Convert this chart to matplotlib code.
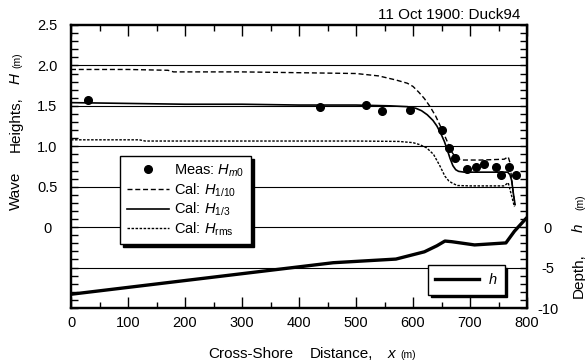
import matplotlib
matplotlib.use("Agg")
import matplotlib.pyplot as plt
from matplotlib.ticker import MultipleLocator, FixedLocator
from matplotlib.lines import Line2D

plt.rcParams['font.family'] = ['Liberation Sans', 'DejaVu Sans']
plt.rcParams['mathtext.fontset'] = 'custom'
plt.rcParams['mathtext.rm'] = 'Liberation Sans'
plt.rcParams['mathtext.it'] = 'Liberation Sans:italic'

# Measured significant wave height H_m0
meas_x = [30, 436, 517, 545, 595, 650, 663, 674, 694, 710, 725, 745, 754, 769, 780]
meas_h = [1.57, 1.48, 1.51, 1.44, 1.45, 1.20, 0.98, 0.85, 0.72, 0.745, 0.785, 0.74, 0.645, 0.74, 0.645]

# Calculated H_1/10
h10_x = [0, 100, 170, 180, 300, 400, 500, 540, 570, 590, 600, 610, 620, 630, 640, 650,
         660, 668, 675, 685, 720, 760, 767, 770, 773, 776, 779]
h10_h = [1.95, 1.95, 1.94, 1.92, 1.92, 1.91, 1.90, 1.87, 1.82, 1.78, 1.74, 1.67, 1.59, 1.49,
         1.37, 1.22, 1.06, 0.93, 0.86, 0.83, 0.83, 0.84, 0.87, 0.80, 0.60, 0.42, 0.27]

# Calculated H_1/3
h13_x = [0, 100, 200, 300, 400, 500, 560, 590, 605, 615, 625, 635, 642, 650, 655, 660,
         665, 670, 675, 680, 690, 720, 750, 766, 770, 773, 776, 779]
h13_h = [1.54, 1.53, 1.52, 1.52, 1.51, 1.51, 1.50, 1.49, 1.47, 1.44, 1.39, 1.32, 1.25, 1.14,
         1.06, 0.96, 0.85, 0.76, 0.71, 0.69, 0.68, 0.68, 0.68, 0.68, 0.65, 0.58, 0.42, 0.28]

# Calculated H_rms
hrms_x = [0, 120, 130, 300, 500, 575, 600, 612, 624, 636, 647, 656, 663, 670, 678, 700,
          760, 767, 770, 774, 778]
hrms_h = [1.08, 1.08, 1.065, 1.065, 1.065, 1.06, 1.045, 1.02, 0.98, 0.90, 0.76, 0.63, 0.57,
          0.54, 0.515, 0.51, 0.51, 0.55, 0.47, 0.36, 0.25]

# Bottom profile, depth h (m)
depth_x = [0, 460, 570, 620, 642, 656, 668, 708, 763, 778, 800]
depth_h = [-8.3, -4.4, -3.95, -3.05, -2.3, -1.72, -1.8, -2.2, -1.95, -0.5, 1.2]

x_ticks = [0, 100, 200, 300, 400, 500, 600, 700, 800]
h_ticks = [-1.0, -0.5, 0.0, 0.5, 1.0, 1.5, 2.0, 2.5]
h_tick_labels = ['', '', '0', '0.5', '1.0', '1.5', '2.0', '2.5']
depth_ticks = [-10, -5, 0]
grid_levels = [-0.5, 0.0, 0.5, 1.0, 1.5, 2.0]

W, HP = 585, 360
FS = 10.5
FL = 11
fig = plt.figure(figsize=(W / 100, HP / 100), dpi=100)
ax = fig.add_axes([71 / W, 1 - 308 / HP, (527 - 71) / W, (308 - 25) / HP])
ax2 = ax.twinx()


def ftext(x, y, s, **kw):
    kw.setdefault('fontsize', FL)
    return fig.text(x / W, 1 - y / HP, s, **kw)


def vtext(x, y, s, **kw):
    # upright-reading label piece; (x, y) is baseline x and starting y in pixels
    return ftext(x, y, s, rotation=90, rotation_mode='anchor', ha='left',
                 va='baseline', **kw)


for g in grid_levels:
    ax.axhline(g, color='k', lw=0.8, zorder=1)

ax.plot(h10_x, h10_h, color='k', lw=1.0, ls=(0, (3.6, 2.0)), zorder=3)
ax.plot(h13_x, h13_h, color='k', lw=1.2, ls='-', zorder=3)
ax.plot(hrms_x, hrms_h, color='k', lw=1.0, ls=(0, (1.8, 1.1)), zorder=3)
ax.plot(meas_x, meas_h, 'o', color='k', ms=5.5, zorder=4)

ax.set_xlim(0, 800)
ax.set_ylim(-1.0, 2.5)
ax.xaxis.set_major_locator(FixedLocator(x_ticks))
ax.xaxis.set_minor_locator(MultipleLocator(50))
ax.set_yticks(h_ticks)
ax.set_yticklabels(h_tick_labels)
ax.yaxis.set_minor_locator(MultipleLocator(0.1))
ax.tick_params(axis='x', which='both', direction='in', top=True, bottom=True,
               labelsize=FS, pad=6, width=1.0)
ax.tick_params(axis='x', which='major', length=8)
ax.tick_params(axis='x', which='minor', length=4.5)
ax.tick_params(axis='y', which='both', direction='in', left=True, right=False,
               length=4.8, width=1.0, labelsize=FS, pad=17)
for lbl in ax.get_yticklabels():
    lbl.set_horizontalalignment('center')

ax2.plot(depth_x, depth_h, color='k', lw=2.4, solid_capstyle='butt', zorder=3)
ax2.set_ylim(-10, 25)
ax2.set_yticks(depth_ticks)
ax2.set_yticklabels([str(t) for t in depth_ticks])
ax2.yaxis.set_minor_locator(MultipleLocator(1))
ax2.tick_params(axis='y', which='both', direction='in', right=True, length=4.8,
                width=1.0, labelsize=FS, pad=15)
for lbl in ax2.get_yticklabels():
    lbl.set_horizontalalignment('center')

for a in (ax, ax2):
    for sp in a.spines.values():
        sp.set_linewidth(1.6)

# Legend for wave heights
handles = [
    Line2D([], [], marker='o', ls='none', color='k', ms=5.5),
    Line2D([], [], color='k', lw=1.0, ls=(0, (3.6, 2.0))),
    Line2D([], [], color='k', lw=1.2, ls='-'),
    Line2D([], [], color='k', lw=1.0, ls=(0, (1.8, 1.1))),
]
labels = [r'Meas: $H_{m0}$', r'Cal: $H_{\rm 1/10}$', r'Cal: $H_{\rm 1/3}$',
          r'Cal: $H_{\rm rms}$']
leg1 = ax2.legend(handles, labels, loc='upper left',
                  bbox_to_anchor=(120 / W, 1 - 156 / HP), bbox_transform=fig.transFigure,
                  borderaxespad=0, fontsize=FS, frameon=True, fancybox=False,
                  shadow={'color': 'k', 'alpha': 1.0}, handlelength=2.9,
                  handletextpad=0.35, labelspacing=0.15, borderpad=0.45,
                  framealpha=1.0, edgecolor='k')
leg1.get_frame().set_linewidth(1.0)
leg1.set_zorder(10)
ax2.add_artist(leg1)

# Legend for the bottom profile
leg2 = ax2.legend([Line2D([], [], color='k', lw=2.4)], [r'$h$'], loc='upper left',
                  bbox_to_anchor=(428 / W, 1 - 265 / HP), bbox_transform=fig.transFigure,
                  borderaxespad=0, fontsize=FS, frameon=True, fancybox=False,
                  shadow={'color': 'k', 'alpha': 1.0}, handlelength=3.0,
                  handletextpad=0.6, borderpad=0.5, framealpha=1.0, edgecolor='k')
leg2.get_frame().set_linewidth(1.0)
leg2.set_zorder(10)

# Title and axis labels
ftext(520, 15, '11 Oct 1900: Duck94', ha='right', va='center')

vtext(20, 210, 'Wave')
vtext(20, 152, 'Heights,')
vtext(20, 84, 'H', style='italic')
vtext(20, 68, '(m)', fontsize=7.5)

vtext(583, 298, 'Depth,')
vtext(583, 232, 'h', style='italic')
vtext(583, 210, '(m)', fontsize=7.5)

ftext(208, 357.5, 'Cross-Shore', ha='left', va='baseline')
ftext(310, 357.5, 'Distance,', ha='left', va='baseline')
ftext(388, 357.5, 'x', ha='left', va='baseline', style='italic')
ftext(400, 357.5, '(m)', ha='left', va='baseline', fontsize=7.5)

fig.savefig('out.png', dpi=100)
